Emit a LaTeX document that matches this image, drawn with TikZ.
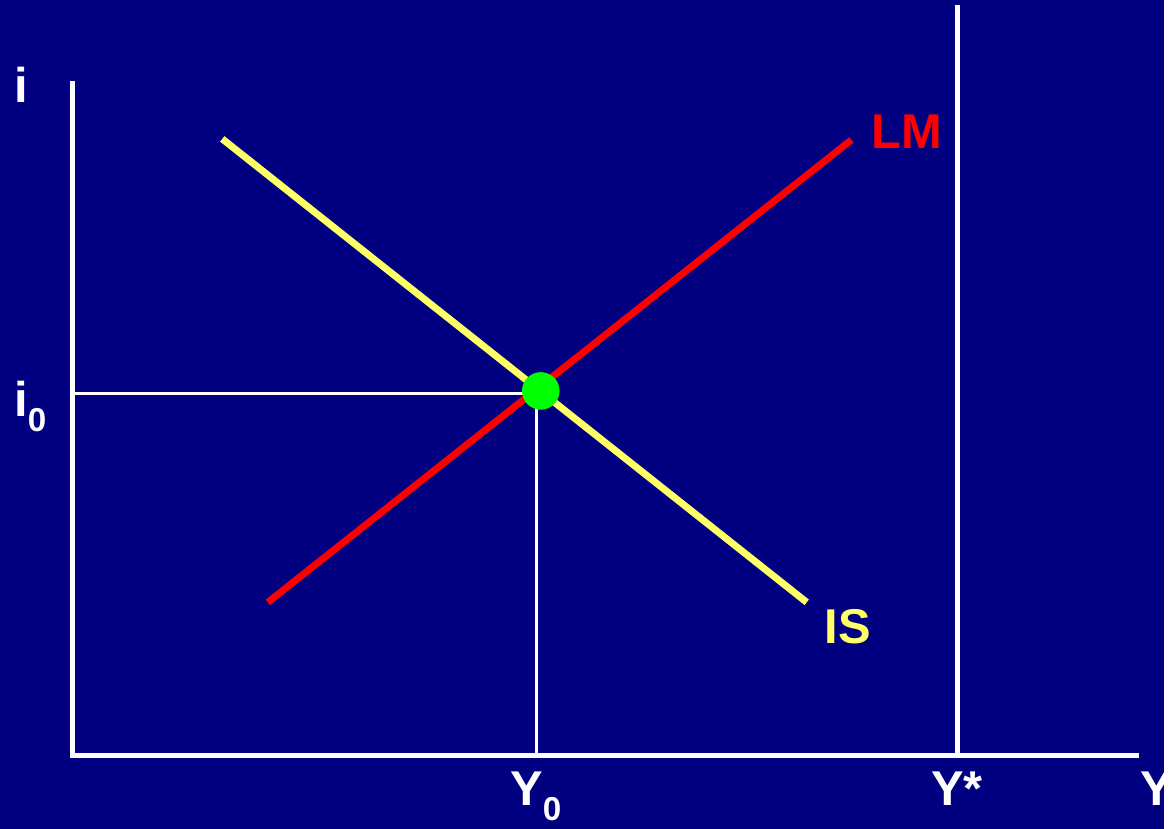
\documentclass[tikz,border=0pt]{standalone}
\usepackage{fontspec}
\setmainfont{Liberation Sans}
\definecolor{navy}{RGB}{0,0,128}
\definecolor{isyellow}{RGB}{255,255,102}
\definecolor{lmred}{RGB}{255,0,0}
\definecolor{eqgreen}{RGB}{0,255,0}
\newcommand{\lowsub}[1]{\raisebox{-0.3em}{\fontsize{19}{20}\selectfont #1}}

\begin{document}
\begin{tikzpicture}[x=0.02cm, y=-0.02cm,
  axisline/.style={white, line width=2.8pt},
  guideline/.style={white, line width=1.7pt},
  curveline/.style={line width=4pt},
  lbl/.style={inner sep=0pt, anchor=base west, font=\fontsize{28}{30}\selectfont\bfseries}]
  \fill[navy] (0,0) rectangle (1173,835);

  % axes
  \coordinate (O) at (73,761);
  \coordinate (itop) at (73,82);
  \coordinate (xend) at (1148,761);
  \draw[axisline] (itop) -- (O) -- (xend);
  \coordinate (ystartop) at (965,5);
  \coordinate (ystarbot) at (965,761);
  \draw[axisline] (ystartop) -- (ystarbot);

  % IS and LM
  \coordinate (IS1) at (224,140);
  \coordinate (IS2) at (813,607);
  \coordinate (LM1) at (270,607);
  \coordinate (LM2) at (858,141);
  \draw[curveline, isyellow] (IS1) -- (IS2);
  \draw[curveline, lmred] (LM1) -- (LM2);

  % equilibrium
  \coordinate (iaxis) at (73,397);
  \coordinate (yaxis) at (541,761);
  \draw[guideline] (iaxis) -- (541,397) -- (yaxis);
  \node[circle, fill=eqgreen, minimum size=38*0.567pt, inner sep=0pt] (E) at (545,394) {};

  % labels
  \node[lbl, white] (ilbl) at (14,103) {i};
  \node[lbl, white] (i0lbl) at (14,420) {i\lowsub{0}};
  \node[lbl, lmred] (LMlbl) at (878,150) {LM};
  \node[lbl, isyellow] (ISlbl) at (831,649) {IS};
  \node[lbl, white] (Y0lbl) at (514,812) {Y\lowsub{0}};
  \node[lbl, white] (Ystarlbl) at (938,812) {Y*};
  \node[lbl, white] (Ylbl) at (1149,812) {Y};
\end{tikzpicture}
\end{document}
